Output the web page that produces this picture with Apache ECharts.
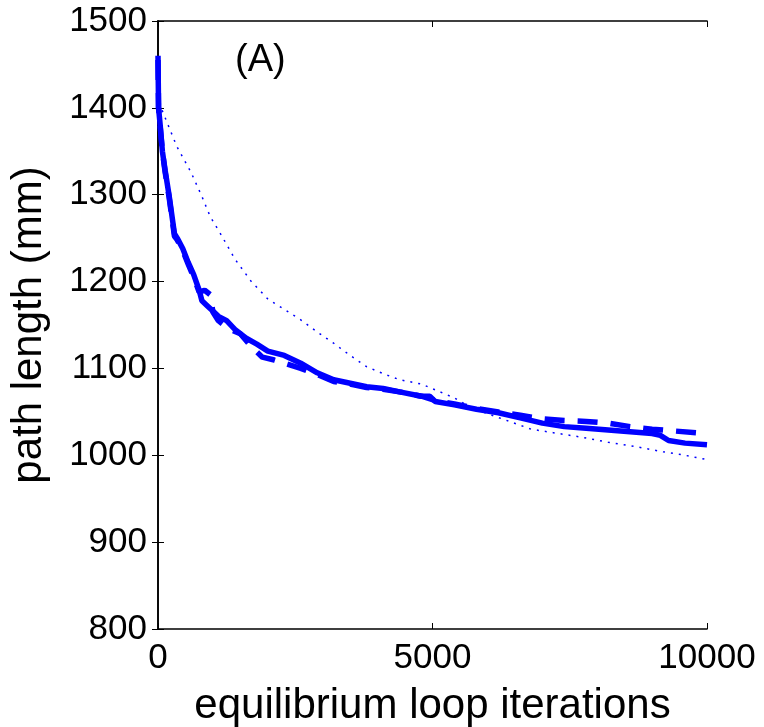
<!DOCTYPE html>
<html>
<head>
<meta charset="utf-8">
<script src="https://cdn.jsdelivr.net/npm/echarts@6/dist/echarts.min.js"></script>
<style>html,body{margin:0;padding:0;background:#fff}#c{width:764px;height:727px}</style>
</head>
<body>
<div id="c"></div>
<script>
// Data: [iterations, path length (mm)]
const solidRun = [[0,1460],[10,1400],[40,1380],[80,1350],[130,1328],[200,1300],[300,1255],[350,1250],[450,1238],[550,1222],[650,1208],[750,1190],[800,1178],[900,1172],[1000,1166],[1100,1160],[1250,1155],[1400,1145],[1600,1135],[1800,1128],[2000,1120],[2300,1115],[2600,1106],[2900,1095],[3200,1087],[3500,1083],[3800,1079],[4100,1077],[4400,1073],[4800,1068],[4950,1068],[5050,1062],[5400,1058],[5800,1053],[6200,1049],[6600,1043],[7000,1037],[7400,1033],[7800,1031],[8200,1029],[8600,1027],[9000,1025],[9150,1023],[9300,1017],[9600,1014],[10000,1012]];
const dashedRun = [[0,1455],[10,1400],[40,1378],[80,1350],[130,1326],[200,1298],[300,1252],[350,1248],[450,1236],[550,1220],[650,1205],[750,1188],[850,1190],[950,1185],[1000,1165],[1100,1155],[1300,1145],[1500,1140],[1700,1125],[1900,1113],[2100,1110],[2300,1106],[2600,1100],[2900,1093],[3200,1085],[3500,1082],[3800,1078],[4100,1076],[4400,1073],[4800,1068],[5000,1064],[5400,1059],[5800,1054],[6200,1050],[6600,1046],[7000,1042],[7400,1040],[7800,1039],[8200,1037],[8600,1033],[9000,1030],[9400,1028],[10000,1025]];
const dottedRun = [[0,1415],[70,1398],[160,1384],[340,1356],[600,1326],[800,1298],[950,1275],[1130,1256],[1400,1226],[1700,1200],[2000,1180],[2300,1168],[2600,1156],[2900,1142],[3200,1129],[3500,1115],[3800,1102],[4100,1094],[4400,1087],[4800,1082],[5100,1074],[5400,1066],[5700,1055],[6000,1048],[6400,1039],[6800,1030],[7200,1026],[7700,1021],[8200,1015],[8700,1010],[9200,1004],[9600,1000],[10000,995]];
const xTicks = [0, 5000, 10000];
const yTicks = [800, 900, 1000, 1100, 1200, 1300, 1400, 1500];
const panelLabel = '(A)';
const xTitle = 'equilibrium loop iterations';
const yTitle = 'path length (mm)';

const FONT = '"Liberation Sans", Arial, sans-serif';
const blue = '#0000ff';
const axisLine = {show: true, lineStyle: {color: '#000', width: 1.6}};
const tick = {show: true, inside: true, length: 6, lineStyle: {color: '#000', width: 1}};
const plain = v => String(v);

const chart = echarts.init(document.getElementById('c'), null, {renderer: 'canvas'});
chart.setOption({
  backgroundColor: '#fff',
  animation: false,
  grid: {left: 158, right: 57, top: 21, bottom: 98, containLabel: false, outerBoundsMode: 'none'},
  graphic: [{
    type: 'text', left: 235, top: 42,
    style: {text: panelLabel, fontSize: 38, fontFamily: FONT, fill: '#000'}
  }],
  xAxis: [{
    type: 'value', min: xTicks[0], max: xTicks[xTicks.length - 1], interval: 5000,
    axisLine: axisLine, axisTick: tick, splitLine: {show: false},
    axisLabel: {fontSize: 35, fontFamily: FONT, color: '#000', margin: 12, formatter: plain},
    name: xTitle, nameLocation: 'middle', nameGap: 56,
    nameTextStyle: {fontSize: 42, fontFamily: FONT, color: '#000', verticalAlign: 'top'}
  }, {
    type: 'value', position: 'top', min: xTicks[0], max: xTicks[xTicks.length - 1], interval: 5000,
    axisLine: axisLine, axisTick: tick, axisLabel: {show: false}, splitLine: {show: false}
  }],
  yAxis: [{
    type: 'value', min: yTicks[0], max: yTicks[yTicks.length - 1], interval: 100,
    axisLine: axisLine, axisTick: tick, splitLine: {show: false},
    axisLabel: {fontSize: 35, fontFamily: FONT, color: '#000', margin: 11, formatter: plain},
    name: yTitle, nameLocation: 'middle', nameGap: 108,
    nameTextStyle: {fontSize: 42, fontFamily: FONT, color: '#000'}
  }, {
    type: 'value', position: 'right', min: yTicks[0], max: yTicks[yTicks.length - 1], interval: 100,
    axisLine: axisLine, axisTick: tick, axisLabel: {show: false}, splitLine: {show: false}
  }],
  series: [{
    type: 'line', name: 'solid', data: solidRun, showSymbol: false, symbol: 'none',
    lineStyle: {color: blue, width: 5.5, type: 'solid'}
  }, {
    type: 'line', name: 'dashed', data: dashedRun, showSymbol: false, symbol: 'none',
    lineStyle: {color: blue, width: 5.5, type: [20, 13]}
  }, {
    type: 'line', name: 'dotted', data: dottedRun, showSymbol: false, symbol: 'none',
    lineStyle: {color: blue, width: 1.5, type: [2, 6]}
  }]
});
</script>
</body>
</html>
